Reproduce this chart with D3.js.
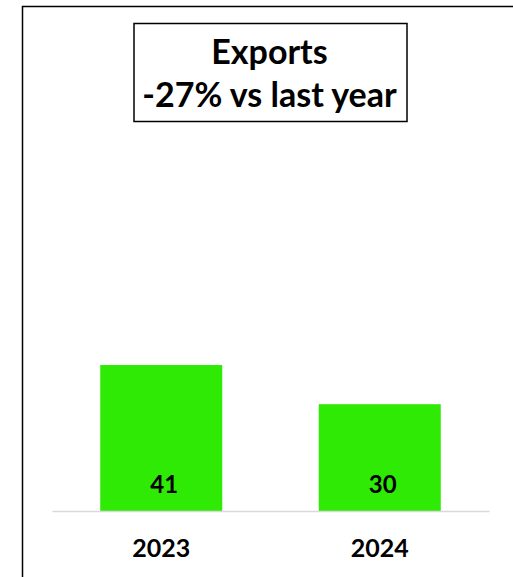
<!DOCTYPE html>
<html>
<head>
<meta charset="utf-8">
<script src="https://cdn.jsdelivr.net/npm/d3@7"></script>
<style>
  body { margin: 0; background: #fff; }
  text { font-family: Lato, "Open Sans", sans-serif; font-weight: bold; fill: #000; }
</style>
</head>
<body>
<div id="chart"></div>
<script>
// Exports chart data
var years = ["2023", "2024"];
var exportValues = [41, 30];
var titleLines = ["Exports", "-27% vs last year"];
var yMax = 100;

// SVG Dimensions
var svgWidth = 513;
var svgHeight = 577;

// Plot area (pixels)
var plot = { left: 52, right: 489, top: 155, bottom: 511 };

var svg = d3.select("#chart")
    .append("svg")
    .attr("width", svgWidth)
    .attr("height", svgHeight);

// Outer frame (runs off the right and bottom edges)
svg.append("rect")
    .attr("x", 22.5)
    .attr("y", 6.5)
    .attr("width", 520)
    .attr("height", 600)
    .attr("fill", "none")
    .attr("stroke", "#000")
    .attr("stroke-width", 1.5);

// Scales
var xScale = d3.scaleBand()
    .domain(years)
    .range([plot.left, plot.right])
    .paddingInner(0.4416)
    .paddingOuter(0.2208);

var yScale = d3.scaleLinear()
    .domain([0, yMax])
    .range([plot.bottom, plot.top]);

// Bars
svg.selectAll(".bar")
    .data(exportValues)
    .enter()
    .append("rect")
    .attr("class", "bar")
    .attr("x", (d, i) => xScale(years[i]))
    .attr("y", d => yScale(d))
    .attr("width", xScale.bandwidth())
    .attr("height", d => yScale(0) - yScale(d))
    .attr("fill", "#2eea05");

// Baseline
var xAxis = d3.axisBottom(xScale).tickSize(0).tickPadding(28);
var axisG = svg.append("g")
    .attr("transform", `translate(0, ${yScale(0)})`)
    .call(xAxis);
axisG.select(".domain").attr("stroke", "#d9d9d9").attr("stroke-width", 1.5);
axisG.selectAll(".tick text")
    .attr("font-size", 25)
    .attr("font-family", "Lato, sans-serif")
    .attr("font-weight", "bold")
    .attr("fill", "#000");

// Value labels inside bars
svg.selectAll(".val")
    .data(exportValues)
    .enter()
    .append("text")
    .attr("class", "val")
    .attr("x", (d, i) => xScale(years[i]) + xScale.bandwidth() / 2 + 3)
    .attr("y", yScale(0) - 18)
    .attr("text-anchor", "middle")
    .attr("font-size", 24)
    .text(d => d);

// Title box
svg.append("rect")
    .attr("x", 134)
    .attr("y", 23.5)
    .attr("width", 273)
    .attr("height", 98)
    .attr("fill", "#fff")
    .attr("stroke", "#000")
    .attr("stroke-width", 1.5);

svg.selectAll(".title")
    .data(titleLines)
    .enter()
    .append("text")
    .attr("class", "title")
    .attr("x", 269.5)
    .attr("y", (d, i) => 64 + i * 43)
    .attr("text-anchor", "middle")
    .attr("font-size", 34)
    .text(d => d);
</script>
</body>
</html>
